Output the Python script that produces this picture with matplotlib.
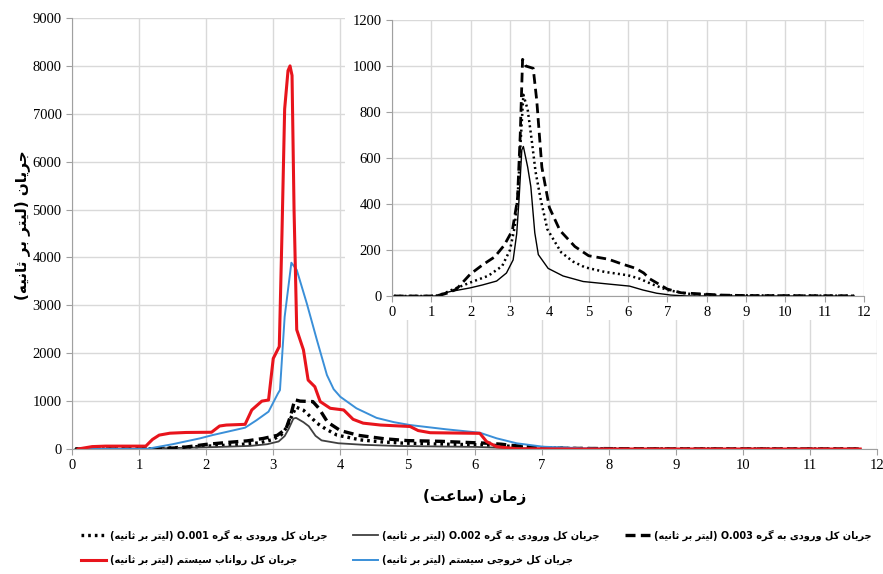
import numpy as np
import matplotlib
matplotlib.use('Agg')
import matplotlib.pyplot as plt
from matplotlib.patches import Rectangle

# --- data (time in hours, flow in L/s) ---
t_runoff = [0.09, 0.3, 0.5, 1.1, 1.2, 1.3, 1.46, 1.7, 2.08, 2.2, 2.3, 2.58, 2.68, 2.83, 2.93,
            3.0, 3.09, 3.13, 3.17, 3.22, 3.25, 3.28, 3.31, 3.35, 3.45, 3.52, 3.62, 3.70, 3.85,
            4.05, 4.19, 4.34, 4.6, 5.04, 5.16, 5.34, 6.08, 6.18, 6.33, 6.63, 7.5, 11.75]
q_runoff = [0, 50, 60, 60, 200, 290, 330, 345, 350, 480, 500, 515, 815, 1000, 1023,
            1890, 2140, 4500, 7100, 7900, 8000, 7800, 5000, 2490, 2070, 1440, 1300, 990, 850,
            815, 620, 540, 500, 470, 385, 340, 327, 155, 48, 5, 0, 0]

t_out = [0.12, 1.11, 1.5, 1.91, 2.1, 2.58, 2.75, 2.93, 3.07, 3.1, 3.17, 3.27, 3.35, 3.5, 3.65,
         3.8, 3.9, 4.0, 4.24, 4.54, 4.8, 5.04, 5.58, 6.08, 6.33, 6.63, 7.02, 7.62, 8.0, 8.5, 11.75]
q_out = [0, 0, 100, 223, 292, 445, 600, 780, 1160, 1230, 2760, 3890, 3740, 3040, 2280,
         1545, 1250, 1090, 850, 650, 560, 500, 411, 340, 223, 119, 48, 15, 3, 0, 0]

t_o3 = [0.05, 1.0, 1.24, 1.45, 1.64, 1.99, 2.3, 2.61, 2.85, 3.06, 3.19, 3.26, 3.32, 3.40, 3.59,
        3.68, 3.81, 4.0, 4.27, 4.65, 5.0, 5.5, 5.8, 6.2, 6.4, 6.55, 6.75, 7.0, 7.35, 7.97, 8.4, 9.0, 11.75]
q_o3 = [0, 0, 4, 15, 30, 95, 135, 170, 220, 285, 420, 700, 1029, 1000, 990,
        850, 560, 385, 285, 215, 175, 160, 142, 120, 100, 75, 55, 30, 14, 8, 4, 2, 1]

t_o1 = [0.05, 1.1, 1.33, 1.5, 1.98, 2.45, 2.8, 3.0, 3.12, 3.2, 3.28, 3.34, 3.45, 3.55, 3.65,
        3.78, 3.95, 4.3, 4.6, 4.9, 5.4, 6.0, 6.3, 6.6, 7.0, 7.5, 8.4, 11.75]
q_o1 = [0, 0, 12, 25, 58, 88, 130, 200, 300, 450, 700, 875, 810, 680, 540,
        420, 290, 190, 150, 125, 105, 90, 75, 52, 26, 10, 3, 1]

t_o2 = [0.05, 1.1, 1.3, 1.5, 1.98, 2.3, 2.66, 2.91, 3.08, 3.17, 3.23, 3.30, 3.34, 3.45, 3.53,
        3.63, 3.72, 3.97, 4.35, 4.86, 5.5, 6.04, 6.38, 6.73, 7.09, 7.5, 11.75]
q_o2 = [0, 0, 12, 20, 35, 48, 65, 100, 157, 270, 420, 635, 650, 560, 475,
        275, 180, 120, 87, 63, 52, 43, 26, 12, 4, 0, 0]

lbl_o1 = 'جریان کل ورودی به گره O.001 (لیتر بر ثانیه)'
lbl_o2 = 'جریان کل ورودی به گره O.002 (لیتر بر ثانیه)'
lbl_o3 = 'جریان کل ورودی به گره O.003 (لیتر بر ثانیه)'
lbl_out = 'جریان کل خروجی سیستم (لیتر بر ثانیه)'
lbl_runoff = 'جریان کل رواناب سیستم (لیتر بر ثانیه)'
xlabel = 'زمان (ساعت)'
ylabel = 'جریان (لیتر بر ثانیه)'

# matplotlib has no arabic shaping, so do contextual forms + visual order by hand
FORMS = {
    'ا': ('\uFE8D', '\uFE8E'), 'د': ('\uFEA9', '\uFEAA'), 'ر': ('\uFEAD', '\uFEAE'),
    'ز': ('\uFEAF', '\uFEB0'), 'و': ('\uFEED', '\uFEEE'),
    'ب': ('\uFE8F', '\uFE90', '\uFE91', '\uFE92'), 'ت': ('\uFE95', '\uFE96', '\uFE97', '\uFE98'),
    'ث': ('\uFE99', '\uFE9A', '\uFE9B', '\uFE9C'), 'ج': ('\uFE9D', '\uFE9E', '\uFE9F', '\uFEA0'),
    'خ': ('\uFEA5', '\uFEA6', '\uFEA7', '\uFEA8'), 'س': ('\uFEB1', '\uFEB2', '\uFEB3', '\uFEB4'),
    'ع': ('\uFEC9', '\uFECA', '\uFECB', '\uFECC'), 'ل': ('\uFEDD', '\uFEDE', '\uFEDF', '\uFEE0'),
    'م': ('\uFEE1', '\uFEE2', '\uFEE3', '\uFEE4'), 'ن': ('\uFEE5', '\uFEE6', '\uFEE7', '\uFEE8'),
    'ه': ('\uFEE9', '\uFEEA', '\uFEEB', '\uFEEC'), 'ک': ('\uFB8E', '\uFB8F', '\uFB90', '\uFB91'),
    'گ': ('\uFB92', '\uFB93', '\uFB94', '\uFB95'), 'ی': ('\uFBFC', '\uFBFD', '\uFBFE', '\uFBFF'),
}


def fa(s):
    out = []
    for i, c in enumerate(s):
        if c not in FORMS:
            out.append(c)
            continue
        f = FORMS[c]
        prev = s[i - 1] if i > 0 else ''
        nxt = s[i + 1] if i + 1 < len(s) else ''
        join_prev = prev in FORMS and len(FORMS[prev]) == 4
        join_next = len(f) == 4 and nxt in FORMS
        if join_prev and join_next:
            out.append(f[3])
        elif join_prev:
            out.append(f[1])
        elif join_next:
            out.append(f[2])
        else:
            out.append(f[0])
    r = ''.join(out)[::-1]
    r = r.translate(str.maketrans('()', ')('))
    # put latin/digit runs back in reading order
    res, run = '', ''
    for c in r:
        if c.isascii() and (c.isalnum() or c == '.'):
            run += c
        else:
            res += run[::-1] + c
            run = ''
    return res + run[::-1]


fa_font = dict(family=['DejaVu Sans'], weight='bold')
num_font = 'Liberation Serif'

fig = plt.figure(figsize=(8.83, 5.74), dpi=100)
ax = fig.add_axes([72 / 883, 1 - 449 / 574, 805 / 883, 431 / 574])

ax.plot(t_o1, q_o1, color='black', lw=2.4, ls=(0, (0.8, 1.2)), label=fa(lbl_o1))
ax.plot(t_o2, q_o2, color='#404040', lw=1.3, label=fa(lbl_o2))
ax.plot(t_o3, q_o3, color='black', lw=2.4, ls=(0, (3, 1.6)), label=fa(lbl_o3))
ax.plot(t_out, q_out, color='#3a8fd8', lw=1.4, label=fa(lbl_out))
ax.plot(t_runoff, q_runoff, color='#e8141c', lw=2.2, label=fa(lbl_runoff))

ax.set_xlim(0, 12)
ax.set_ylim(0, 9000)
ax.set_xticks(range(0, 13))
ax.set_yticks(range(0, 9001, 1000))
ax.grid(True, color='#d9d9d9', lw=1)
ax.set_axisbelow(True)
for s in ['top', 'right']:
    ax.spines[s].set_visible(False)
for s in ['left', 'bottom']:
    ax.spines[s].set_color('#a0a0a0')
ax.tick_params(colors='#a0a0a0', labelcolor='black', length=4, labelsize=10.5)
for lab in ax.get_xticklabels() + ax.get_yticklabels():
    lab.set_fontfamily(num_font)

# white chart area behind the inset
fig.patches.append(Rectangle((345 / 883, 1 - 320 / 574), 538 / 883, 320 / 574,
                             transform=fig.transFigure, facecolor='white',
                             edgecolor='none', zorder=1))

ins = fig.add_axes([392 / 883, 1 - 296 / 574, 472 / 883, 276 / 574], zorder=2)
ins.plot(t_o1, q_o1, color='black', lw=1.8, ls=(0, (0.8, 1.3)))
ins.plot(t_o2, q_o2, color='black', lw=1.0)
ins.plot(t_o3, q_o3, color='black', lw=2.0, ls=(0, (3.5, 1.8)))
ins.set_xlim(0, 12)
ins.set_ylim(0, 1200)
ins.set_xticks(range(0, 13))
ins.set_yticks(range(0, 1201, 200))
ins.grid(True, color='#d9d9d9', lw=1)
ins.set_axisbelow(True)
for s in ['top', 'right']:
    ins.spines[s].set_visible(False)
for s in ['left', 'bottom']:
    ins.spines[s].set_color('#a0a0a0')
ins.tick_params(colors='#a0a0a0', labelcolor='black', length=4, labelsize=10.5)
for lab in ins.get_xticklabels() + ins.get_yticklabels():
    lab.set_fontfamily(num_font)

fig.text(22 / 883, 1 - 225 / 574, fa(ylabel), rotation=90, ha='center', va='center',
         fontsize=11, **fa_font)
fig.text(475 / 883, 1 - 497 / 574, fa(xlabel), ha='center', va='center',
         fontsize=11, **fa_font)

h, l = ax.get_legend_handles_labels()
order = [0, 4, 1, 3, 2]
fig.legend([h[i] for i in order], [l[i] for i in order], loc='upper left',
           bbox_to_anchor=(72 / 883, 1 - 521 / 574), ncol=3, frameon=False,
           prop=dict(family='DejaVu Sans', weight='bold', size=7.0),
           handlelength=2.6, columnspacing=2.6, labelspacing=1.45, handletextpad=0.4)

fig.savefig('out.png', dpi=100)
